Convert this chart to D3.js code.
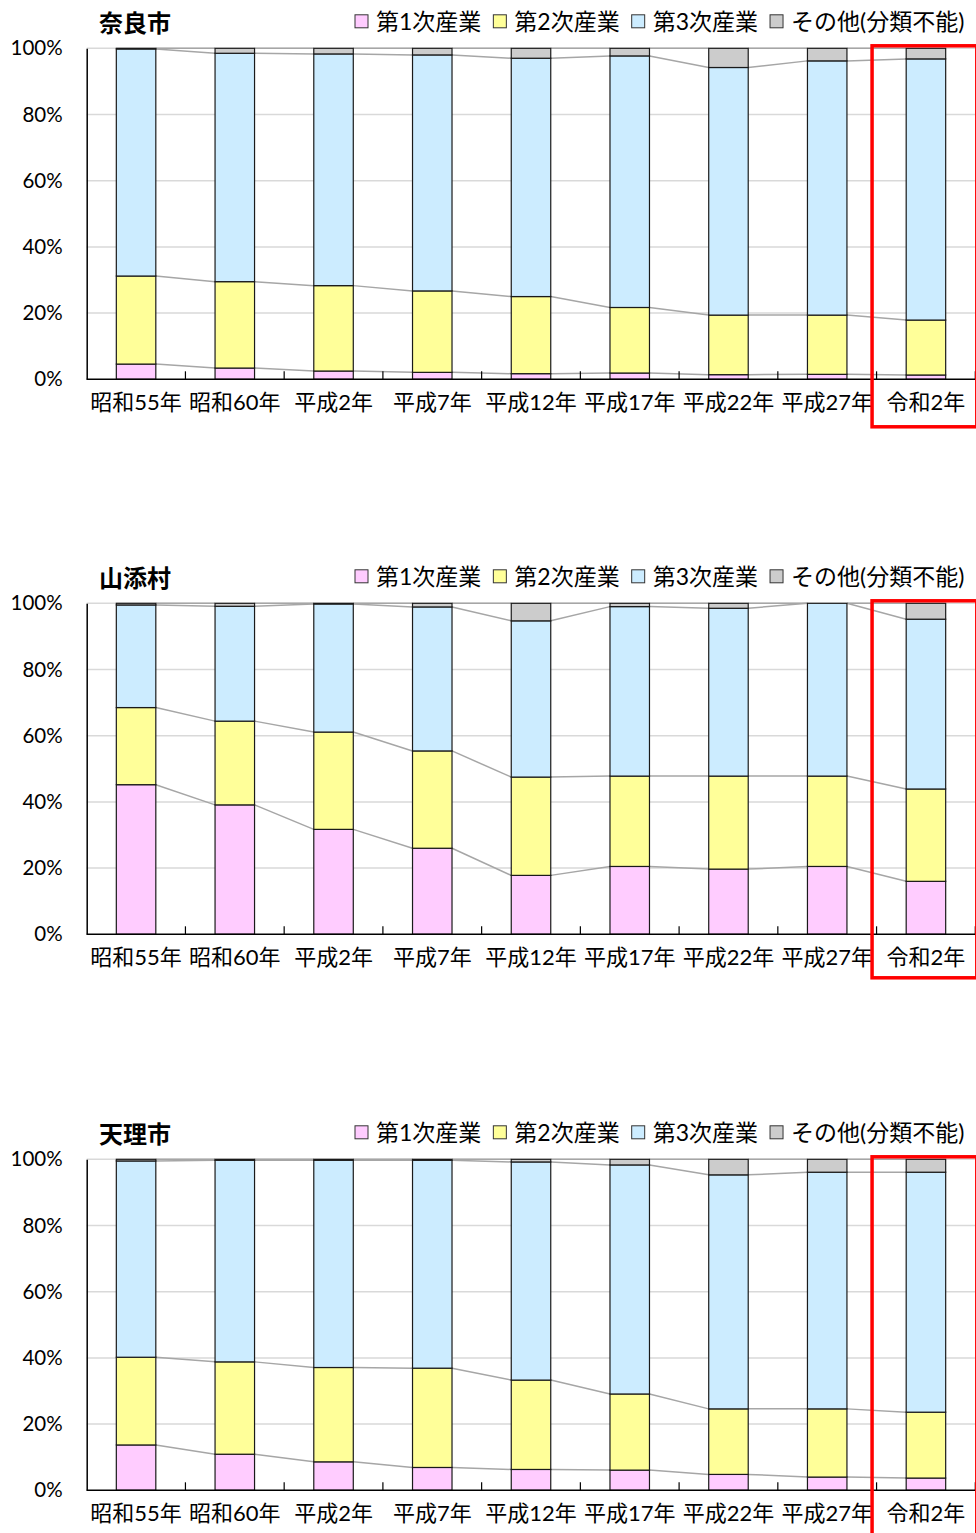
<!DOCTYPE html>
<html>
<head>
<meta charset="utf-8">
<script src="https://cdn.jsdelivr.net/npm/d3@7"></script>
<style>
  html, body { margin: 0; padding: 0; background: #fff; }
  svg { display: block; }
</style>
</head>
<body>
<script>
// Employment share by industry, census years
const categories = ["昭和55年", "昭和60年", "平成2年", "平成7年", "平成12年", "平成17年", "平成22年", "平成27年", "令和2年"];
const seriesNames = ["第1次産業", "第2次産業", "第3次産業", "その他(分類不能)"];
const seriesColors = ["#FFCCFF", "#FFFF99", "#CCECFF", "#CCCCCC"];
const tickValues = [0, 20, 40, 60, 80, 100];
const tickLabels = ["0%", "20%", "40%", "60%", "80%", "100%"];

// 奈良市 (%)
const naraPrimary   = [4.6, 3.4, 2.5, 2.1, 1.7, 1.9, 1.4, 1.5, 1.3];
const naraSecondary = [26.6, 26.1, 25.8, 24.6, 23.3, 19.8, 18.0, 17.9, 16.6];
const naraTertiary  = [68.6, 69.0, 70.0, 71.3, 72.0, 76.0, 74.8, 76.8, 78.9];
const naraOther     = [0.2, 1.5, 1.7, 2.0, 3.0, 2.3, 5.8, 3.8, 3.2];

// 山添村 (%)
const yamazoePrimary   = [45.2, 39.1, 31.7, 26.0, 17.8, 20.5, 19.7, 20.5, 16.0];
const yamazoeSecondary = [23.3, 25.3, 29.4, 29.4, 29.7, 27.3, 28.1, 27.3, 27.9];
const yamazoeTertiary  = [31.0, 34.7, 38.7, 43.5, 47.2, 51.2, 50.7, 52.2, 51.3];
const yamazoeOther     = [0.5, 0.9, 0.2, 1.1, 5.3, 1.0, 1.5, 0.0, 4.8];

// 天理市 (%)
const tenriPrimary   = [13.7, 10.9, 8.6, 6.9, 6.3, 6.1, 4.8, 4.0, 3.7];
const tenriSecondary = [26.5, 27.9, 28.5, 30.0, 27.0, 23.0, 19.8, 20.6, 19.9];
const tenriTertiary  = [59.3, 60.9, 62.6, 62.8, 65.9, 69.2, 70.7, 71.5, 72.5];
const tenriOther     = [0.5, 0.3, 0.3, 0.3, 0.8, 1.7, 4.7, 3.9, 3.9];

const panels = [
  { name: "奈良市", values: [naraPrimary, naraSecondary, naraTertiary, naraOther], top: 48.3, frameH: 381 },
  { name: "山添村", values: [yamazoePrimary, yamazoeSecondary, yamazoeTertiary, yamazoeOther], top: 603.3, frameH: 377 },
  { name: "天理市", values: [tenriPrimary, tenriSecondary, tenriTertiary, tenriOther], top: 1159.3, frameH: 400 }
];

const W = 976, H = 1533;
const plotLeft = 86.7, plotRight = 975.3, plotH = 331;
const latinCjk = "Lato, 'Noto Sans CJK JP', sans-serif";

const svg = d3.select("body").append("svg")
  .attr("width", W).attr("height", H)
  .attr("viewBox", `0 0 ${W} ${H}`);

const x = d3.scaleBand()
  .domain(categories)
  .range([plotLeft, plotRight])
  .paddingInner(0.6)
  .paddingOuter(0.3);

panels.forEach(panel => {
  const top = panel.top, bottom = top + plotH;
  const y = d3.scaleLinear().domain([0, 100]).range([bottom, top]);
  const g = svg.append("g");

  // stacked layout
  const rows = categories.map((c, i) => {
    const row = { category: c };
    seriesNames.forEach((s, k) => { row[s] = panel.values[k][i]; });
    return row;
  });
  const stacked = d3.stack().keys(seriesNames)(rows);

  // gridlines
  g.append("g").selectAll("line")
    .data(tickValues.filter(v => v > 0))
    .join("line")
    .attr("x1", plotLeft).attr("x2", plotRight)
    .attr("y1", d => y(d)).attr("y2", d => y(d))
    .attr("stroke", "#d9d9d9").attr("stroke-width", 1.5);

  // series lines linking segment tops between neighbouring bars
  const bw = x.bandwidth();
  stacked.forEach(layer => {
    const segs = d3.pairs(layer.map((d, i) => ({ cat: categories[i], top: d[1] })));
    g.append("g").selectAll("line")
      .data(segs)
      .join("line")
      .attr("x1", d => x(d[0].cat) + bw)
      .attr("y1", d => y(d[0].top))
      .attr("x2", d => x(d[1].cat))
      .attr("y2", d => y(d[1].top))
      .attr("stroke", "#a6a6a6").attr("stroke-width", 1.5);
  });

  // bars
  stacked.forEach((layer, k) => {
    g.append("g").selectAll("rect")
      .data(layer.map((d, i) => ({ cat: categories[i], y0: d[0], y1: d[1] })).filter(d => d.y1 - d.y0 > 0))
      .join("rect")
      .attr("x", d => x(d.cat))
      .attr("width", bw)
      .attr("y", d => y(d.y1))
      .attr("height", d => y(d.y0) - y(d.y1))
      .attr("fill", seriesColors[k])
      .attr("stroke", "#1a1a1a")
      .attr("stroke-width", 1.2);
  });

  // y axis
  const yAxis = d3.axisLeft(y).tickValues(tickValues)
    .tickFormat((d, i) => tickLabels[i]).tickSize(0).tickPadding(24);
  const ya = g.append("g").attr("transform", `translate(${plotLeft},0)`).call(yAxis);
  ya.select(".domain").attr("stroke", "#000").attr("stroke-width", 1.5);
  ya.selectAll("text").attr("font-family", latinCjk).attr("font-size", 20.5).attr("fill", "#000");

  // x axis with inside tick marks at category boundaries
  const xAxis = d3.axisBottom(x).tickSize(0).tickPadding(15);
  const xa = g.append("g").attr("transform", `translate(0,${bottom})`).call(xAxis);
  xa.select(".domain").attr("d", `M${plotLeft},0H${plotRight}`).attr("stroke", "#000").attr("stroke-width", 1.5);
  xa.selectAll("text").attr("font-family", latinCjk).attr("font-size", 22).attr("fill", "#000")
    .attr("dy", "0.71em");
  const step = x.step();
  xa.append("g").selectAll("line")
    .data(d3.range(1, categories.length + 1))
    .join("line")
    .attr("x1", i => plotLeft + i * step).attr("x2", i => plotLeft + i * step)
    .attr("y1", 0).attr("y2", -8)
    .attr("stroke", "#000").attr("stroke-width", 1.2);

  // title
  g.append("text")
    .attr("x", 99).attr("y", top - 26.5)
    .attr("dominant-baseline", "central")
    .attr("font-family", "'Noto Sans CJK JP', sans-serif")
    .attr("font-weight", "bold").attr("font-size", 24)
    .text(panel.name);

  // legend
  const lg = g.append("g");
  let lx = 355;
  seriesNames.forEach((s, k) => {
    lg.append("rect")
      .attr("x", lx).attr("y", top - 27 - 6.5)
      .attr("width", 13).attr("height", 13)
      .attr("fill", seriesColors[k]).attr("stroke", "#333").attr("stroke-width", 1);
    const t = lg.append("text")
      .attr("x", lx + 21).attr("y", top - 27)
      .attr("dominant-baseline", "central")
      .attr("font-family", latinCjk).attr("font-size", 23).attr("fill", "#000")
      .text(s);
    lx += 21 + t.node().getComputedTextLength() + 12;
  });

  // highlight frame around the latest year
  const lastX = plotLeft + (categories.length - 1) * step;
  g.append("rect")
    .attr("x", lastX - 4.5).attr("y", top - 2.5)
    .attr("width", plotRight - lastX + 6)
    .attr("height", panel.frameH)
    .attr("fill", "none").attr("stroke", "#ff0000").attr("stroke-width", 3.5);
});
</script>
</body>
</html>
